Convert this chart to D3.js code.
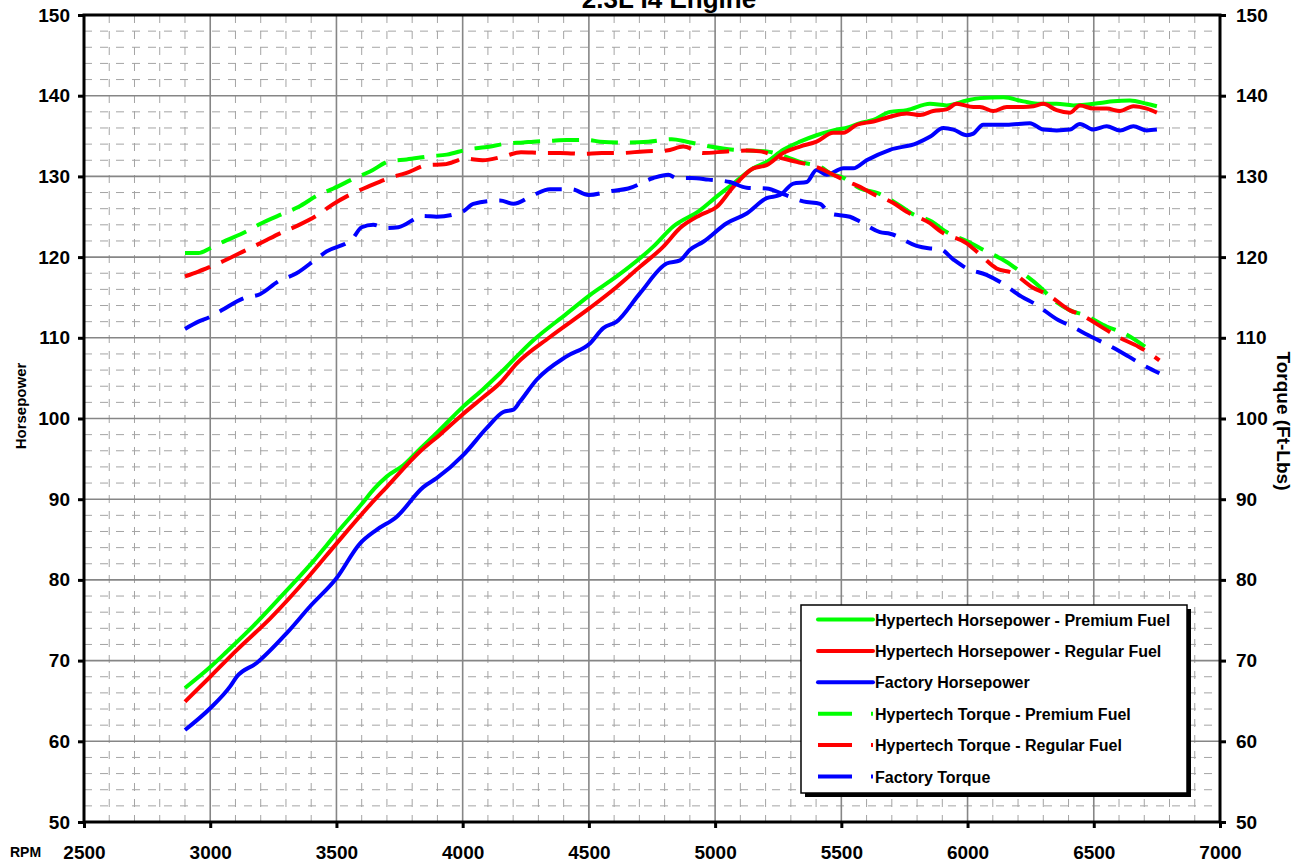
<!DOCTYPE html>
<html>
<head>
<meta charset="utf-8">
<script src="https://cdn.jsdelivr.net/npm/d3@7/dist/d3.min.js"></script>
<style>
body{margin:0;background:#fff;}
svg text{font-family:Arial,"Liberation Sans",sans-serif;font-weight:bold;fill:#000;}
</style>
</head>
<body>
<div id="chart"></div>
<script>
// data
var rpmTicks=[2500,3000,3500,4000,4500,5000,5500,6000,6500,7000];
var valueTicks=[50,60,70,80,90,100,110,120,130,140,150];

var hpPremium=[[2900,66.6],[3000,69.2],[3065,71.1],[3171,74.3],[3303,78.7],[3408,82.3],[3501,85.8],[3600,89.4],[3650,91.3],[3699,92.8],[3765,94.2],[3830,96.2],[3897,98.2],[4003,101.5],[4080,103.6],[4148,105.6],[4280,109.7],[4412,113.0],[4504,115.3],[4610,117.6],[4755,121.3],[4834,123.8],[4940,125.8],[5006,127.5],[5072,129.1],[5151,131.0],[5204,131.8],[5270,133.3],[5336,134.3],[5402,135.1],[5468,135.7],[5530,136.1],[5574,136.6],[5627,137.0],[5693,138.0],[5759,138.2],[5851,139.0],[5917,138.8],[5997,139.4],[6049,139.7],[6142,139.8],[6221,139.3],[6287,139.0],[6353,139.0],[6419,138.8],[6525,139.1],[6577,139.3],[6643,139.4],[6710,139.0],[6750,138.7]];
var hpRegular=[[2900,64.9],[3000,68.0],[3105,71.3],[3237,75.2],[3395,80.6],[3500,84.5],[3633,89.3],[3699,91.5],[3831,95.9],[3910,98.0],[4003,100.6],[4080,102.6],[4148,104.4],[4214,106.8],[4346,110.1],[4504,113.7],[4610,116.3],[4702,118.8],[4795,121.3],[4861,123.6],[4940,125.2],[5006,126.2],[5072,128.7],[5151,131.0],[5204,131.4],[5270,132.9],[5336,133.7],[5402,134.3],[5468,135.4],[5508,135.4],[5561,136.4],[5627,136.8],[5693,137.4],[5759,137.8],[5812,137.6],[5864,138.1],[5917,138.3],[5957,139.0],[6023,138.6],[6049,138.6],[6102,138.1],[6155,138.6],[6221,138.6],[6261,138.7],[6300,139.0],[6353,138.2],[6406,137.9],[6445,138.8],[6498,138.4],[6551,138.4],[6604,138.1],[6657,138.7],[6710,138.4],[6750,137.9]];
var hpFactory=[[2900,61.4],[3000,64.1],[3079,66.8],[3105,68.0],[3184,69.7],[3303,73.4],[3395,76.7],[3500,80.2],[3593,84.5],[3659,86.2],[3738,87.8],[3844,91.5],[3897,92.6],[4003,95.5],[4095,98.8],[4161,100.8],[4201,101.1],[4227,102.1],[4293,104.8],[4412,107.7],[4504,109.3],[4557,111.2],[4610,112.0],[4702,115.5],[4808,119.2],[4861,119.6],[4900,120.9],[4953,121.9],[5046,124.2],[5125,125.4],[5204,127.3],[5257,127.7],[5310,129.1],[5363,129.3],[5402,130.8],[5442,130.2],[5508,131.0],[5547,131.0],[5600,132.0],[5693,133.3],[5798,134.1],[5851,134.9],[5904,136.0],[5944,135.8],[5997,135.1],[6023,135.3],[6062,136.4],[6155,136.4],[6247,136.6],[6300,135.8],[6353,135.7],[6406,135.8],[6445,136.5],[6498,135.8],[6551,136.2],[6604,135.7],[6657,136.2],[6710,135.7],[6750,135.8]];

var tqPremium=[[2900,120.5],[2953,120.5],[3000,121.1],[3045,121.8],[3144,123.2],[3197,124.1],[3290,125.4],[3349,126.2],[3428,127.7],[3488,128.5],[3574,129.8],[3633,130.6],[3712,131.9],[3778,132.1],[3871,132.5],[3937,132.7],[4029,133.4],[4088,133.6],[4181,134.1],[4240,134.2],[4280,134.3],[4346,134.4],[4412,134.5],[4498,134.5],[4544,134.3],[4650,134.2],[4735,134.3],[4828,134.6],[4887,134.3],[4980,133.7],[5072,133.3],[5138,133.2],[5204,133.1],[5284,132.4],[5336,131.8],[5416,131.2],[5468,130.2],[5495,130.0],[5574,128.5],[5647,127.9],[5726,126.5],[5779,125.4],[5858,124.4],[5917,123.1],[6003,121.9],[6062,120.9],[6155,119.4],[6201,118.4],[6287,116.3],[6340,114.7],[6406,113.4],[6465,112.8],[6551,111.4],[6617,110.6],[6703,108.9]];
var tqRegular=[[2900,117.6],[2953,118.2],[3000,118.8],[3045,119.4],[3144,120.9],[3197,121.7],[3287,123.1],[3346,123.9],[3425,125.2],[3484,126.5],[3564,127.9],[3623,128.7],[3709,129.8],[3775,130.4],[3861,131.4],[3927,131.5],[4013,132.2],[4079,132.0],[4165,132.5],[4231,133.0],[4320,132.9],[4386,132.9],[4472,132.8],[4551,132.9],[4630,132.9],[4716,133.1],[4808,133.2],[4874,133.7],[4953,132.9],[5046,133.1],[5125,133.2],[5178,133.1],[5270,132.2],[5323,131.8],[5416,131.0],[5468,130.2],[5530,129.3],[5574,128.7],[5620,127.9],[5706,126.7],[5759,125.6],[5851,124.2],[5897,123.1],[5997,121.7],[6043,120.5],[6115,118.6],[6181,118.0],[6254,116.3],[6320,115.3],[6406,113.4],[6452,112.8],[6538,111.2],[6597,110.1],[6677,108.9],[6730,107.9],[6760,107.2]];
var tqFactory=[[2900,111.1],[2953,112.0],[3000,112.6],[3045,113.4],[3131,114.9],[3197,115.4],[3270,117.0],[3342,118.0],[3421,119.8],[3461,120.7],[3564,122.3],[3600,123.7],[3646,124.0],[3699,123.6],[3745,123.7],[3844,125.1],[3897,125.0],[4003,125.7],[4042,126.6],[4148,127.0],[4201,126.6],[4280,127.7],[4346,128.4],[4432,128.4],[4498,127.7],[4590,128.2],[4656,128.5],[4755,129.8],[4815,130.2],[4848,129.8],[4907,129.8],[4973,129.6],[5059,129.3],[5125,128.6],[5204,128.5],[5270,127.8],[5349,126.9],[5416,126.6],[5455,125.4],[5534,125.0],[5574,124.4],[5653,123.1],[5693,122.9],[5798,121.4],[5845,121.1],[5891,121.0],[5944,119.7],[5997,118.6],[6075,117.8],[6135,116.8],[6214,115.1],[6267,114.2],[6359,112.2],[6406,111.5],[6498,110.0],[6545,109.3],[6637,107.7],[6696,106.6],[6760,105.6]];

var seriesNames=['Hypertech Horsepower - Premium Fuel','Hypertech Horsepower - Regular Fuel','Factory Horsepower','Hypertech Torque - Premium Fuel','Hypertech Torque - Regular Fuel','Factory Torque'];
var seriesData=[hpPremium,hpRegular,hpFactory,tqPremium,tqRegular,tqFactory];
var seriesColors=['#00ff00','#ff0000','#0000ff','#00ff00','#ff0000','#0000ff'];
var seriesDashed=[false,false,false,true,true,true];

var W=1306,H=865;
var m={left:84,right:1220,top:15,bottom:822};

var svg=d3.select('#chart').append('svg').attr('width',W).attr('height',H);

var x=d3.scaleLinear().domain([2500,7000]).range([m.left,m.right]);
var y=d3.scaleLinear().domain([50,150]).range([m.bottom,m.top]);

// minor grid (dashed)
var grid=svg.append('g');
grid.selectAll('line.vmin').data(d3.range(2600,7000,100).filter(v=>v%500!==0)).enter().append('line')
    .attr('x1',d=>x(d)).attr('x2',d=>x(d)).attr('y1',m.top).attr('y2',m.bottom)
    .attr('stroke','#a4a4a4').attr('stroke-width',1).attr('stroke-dasharray','8,8');
grid.selectAll('line.hmin').data(d3.range(52,150,2).filter(v=>v%10!==0)).enter().append('line')
    .attr('y1',d=>y(d)).attr('y2',d=>y(d)).attr('x1',m.left).attr('x2',m.right)
    .attr('stroke','#a4a4a4').attr('stroke-width',1).attr('stroke-dasharray','8,8');
// major grid
grid.selectAll('line.vmaj').data(rpmTicks.slice(1,-1)).enter().append('line')
    .attr('x1',d=>x(d)).attr('x2',d=>x(d)).attr('y1',m.top).attr('y2',m.bottom)
    .attr('stroke','#868686').attr('stroke-width',1.6);
grid.selectAll('line.hmaj').data(valueTicks.slice(1,-1)).enter().append('line')
    .attr('y1',d=>y(d)).attr('y2',d=>y(d)).attr('x1',m.left).attr('x2',m.right)
    .attr('stroke','#868686').attr('stroke-width',1.6);

// curves
var line=d3.line().x(d=>x(d[0])).y(d=>y(d[1])).curve(d3.curveMonotoneX);
seriesData.forEach(function(s,i){
    svg.append('path').datum(s)
        .attr('d',line).attr('fill','none')
        .attr('stroke',seriesColors[i]).attr('stroke-width',4)
        .attr('stroke-linejoin','round')
        .attr('stroke-dasharray',seriesDashed[i]?'27,12':null);
});

// axes
var axL=svg.append('g').attr('transform','translate('+m.left+',0)')
    .call(d3.axisLeft(y).tickValues(valueTicks).tickSize(6).tickPadding(8).tickFormat(d3.format('d')));
var axR=svg.append('g').attr('transform','translate('+m.right+',0)')
    .call(d3.axisRight(y).tickValues(valueTicks).tickSize(6).tickPadding(10).tickFormat(d3.format('d')));
var axB=svg.append('g').attr('transform','translate(0,'+m.bottom+')')
    .call(d3.axisBottom(x).tickValues(rpmTicks).tickSize(6).tickPadding(18).tickFormat(d3.format('d')));
[axL,axR,axB].forEach(function(a){
    a.select('.domain').remove();
    a.selectAll('.tick line').attr('stroke','#000').attr('stroke-width',3);
    a.selectAll('.tick text').attr('font-size','19px').attr('fill','#000').attr('font-weight','bold');
});

// plot frame
svg.append('rect').attr('x',m.left).attr('y',m.top)
    .attr('width',m.right-m.left).attr('height',m.bottom-m.top)
    .attr('fill','none').attr('stroke','#000').attr('stroke-width',3);

// titles
svg.append('text').attr('x',669).attr('y',8).attr('text-anchor','middle')
    .attr('font-size','26px').text('2.3L I4 Engine');
svg.append('text').attr('transform','translate(26,406) rotate(-90)').attr('text-anchor','middle')
    .attr('font-size','15px').text('Horsepower');
svg.append('text').attr('transform','translate(1277,421) rotate(90)').attr('text-anchor','middle')
    .attr('font-size','19px').text('Torque (Ft-Lbs)');
svg.append('text').attr('x',10).attr('y',857).attr('font-size','14px').text('RPM');

// legend
var lg=svg.append('g');
lg.append('rect').attr('x',805).attr('y',609).attr('width',386).attr('height',188).attr('fill','#000');
lg.append('rect').attr('x',801).attr('y',605).attr('width',386).attr('height',188)
    .attr('fill','#fff').attr('stroke','#000').attr('stroke-width',1.5);
var item=lg.selectAll('g.item').data(seriesNames).enter().append('g')
    .attr('transform',(d,i)=>'translate(0,'+(619.5+i*31.4)+')');
item.append('line').attr('x1',818).attr('x2',873).attr('y1',0).attr('y2',0)
    .attr('stroke',(d,i)=>seriesColors[i]).attr('stroke-width',4).attr('stroke-linecap',(d,i)=>seriesDashed[i]?'butt':'round')
    .attr('stroke-dasharray',(d,i)=>seriesDashed[i]?'34,19':null);
item.append('text').attr('x',875).attr('y',6).attr('font-size','16px').text(d=>d);
</script>
</body>
</html>
